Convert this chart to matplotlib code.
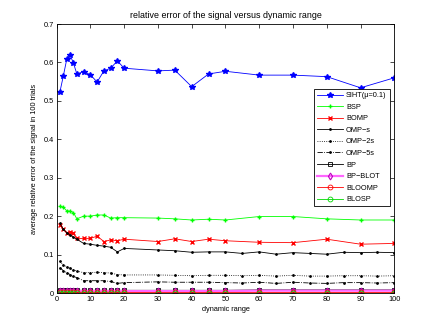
import numpy as np
import matplotlib
matplotlib.use("Agg")
import matplotlib.pyplot as plt

plt.rcParams['font.family'] = ['Liberation Sans', 'DejaVu Sans']
plt.rcParams['font.size'] = 5.3

# dynamic range sample points
x = [1, 2, 3, 4, 5, 6, 8, 10, 12, 14, 16, 18, 20, 30, 35, 40, 45, 50, 60, 70, 80, 90, 100]
x_omp = [1, 2, 3, 4, 5, 6, 8, 10, 12, 14, 16, 18, 20, 30, 35, 40, 45, 50, 55, 60, 65, 70, 75, 80, 85, 90, 95, 100]

siht = [0.524, 0.565, 0.608, 0.619, 0.598, 0.570, 0.576, 0.568, 0.549, 0.578, 0.585, 0.604,
        0.585, 0.578, 0.580, 0.537, 0.570, 0.577, 0.567, 0.567, 0.563, 0.534, 0.560]
bsp = [0.226, 0.223, 0.214, 0.213, 0.209, 0.193, 0.200, 0.200, 0.203, 0.203, 0.195, 0.196,
       0.196, 0.195, 0.193, 0.190, 0.192, 0.190, 0.199, 0.199, 0.193, 0.190, 0.190]
bomp = [0.177, 0.166, 0.157, 0.160, 0.155, 0.142, 0.142, 0.142, 0.148, 0.134, 0.138, 0.136,
        0.140, 0.134, 0.141, 0.134, 0.140, 0.136, 0.132, 0.131, 0.140, 0.127, 0.129]
omp_s = [0.181, 0.166, 0.157, 0.151, 0.145, 0.140, 0.129, 0.127, 0.124, 0.122, 0.119, 0.107,
         0.116, 0.112, 0.110, 0.106, 0.107, 0.107, 0.103, 0.107, 0.101, 0.105, 0.103, 0.101,
         0.106, 0.105, 0.106, 0.105]
omp_2s = [0.082, 0.073, 0.068, 0.064, 0.060, 0.057, 0.053, 0.053, 0.054, 0.053, 0.052, 0.048,
          0.047, 0.047, 0.046, 0.045, 0.046, 0.046, 0.045, 0.046, 0.044, 0.046, 0.044, 0.044,
          0.045, 0.045, 0.044, 0.045]
omp_5s = [0.066, 0.058, 0.053, 0.048, 0.043, 0.040, 0.032, 0.032, 0.032, 0.032, 0.030, 0.025,
          0.027, 0.029, 0.028, 0.028, 0.028, 0.027, 0.026, 0.028, 0.025, 0.028, 0.026, 0.025,
          0.027, 0.027, 0.026, 0.027]
bp = [0.008, 0.007, 0.008, 0.007, 0.007, 0.007, 0.007, 0.007, 0.007, 0.007, 0.007, 0.007,
      0.007, 0.007, 0.007, 0.007, 0.007, 0.007, 0.008, 0.008, 0.008, 0.008, 0.008]
bp_blot = [0.006, 0.005, 0.006, 0.005, 0.005, 0.005, 0.005, 0.005, 0.005, 0.005, 0.005, 0.005,
           0.005, 0.005, 0.005, 0.005, 0.005, 0.005, 0.006, 0.006, 0.006, 0.006, 0.006]
bloomp = [0.002] * len(x)
blosp = [0.0] * len(x)

fig = plt.figure(figsize=(4.36, 3.28), dpi=100)
ax = fig.add_axes([0.1298, 0.1067, 0.7746, 0.8201])

lw = 0.6
ms = 3.5
ax.plot(x, siht, 'b-*', lw=lw, ms=ms + 0.5, label='SIHT(\u03bc=0.1)')
ax.plot(x, bsp, '-+', color=(0, 1, 0), lw=lw, ms=ms, label='BSP')
ax.plot(x, bomp, 'r-x', lw=lw, ms=ms - 1, label='BOMP')
ax.plot(x_omp, omp_s, 'k', lw=lw, ms=2, marker='.', linestyle='-', label='OMP\u2212s')
ax.plot(x_omp, omp_2s, 'k', lw=lw, ms=2, marker='.', linestyle=':', label='OMP\u22122s')
ax.plot(x_omp, omp_5s, 'k', lw=lw, ms=2, marker='.', linestyle='-.', label='OMP\u22125s')
ax.plot(x, bp, 'k-s', lw=lw, ms=ms - 0.5, mfc='none', mew=0.6, label='BP')
ax.plot(x, bp_blot, '-d', color='#ff66ff', lw=1.6, ms=ms, mfc='none', mew=0.8,
        mec='m', label='BP\u2212BLOT')
ax.plot(x, bloomp, 'r-o', lw=lw, ms=ms, mfc='none', mew=0.6, label='BLOOMP')
ax.plot(x, blosp, '-o', color=(0, 0.85, 0), lw=lw, ms=ms, mfc='none', mew=0.6, label='BLOSP')

ax.set_xlim(0, 100)
ax.set_ylim(0, 0.7)
ax.set_xticks(np.arange(0, 101, 10))
ax.set_yticks(np.arange(0, 0.71, 0.1))
ax.set_yticklabels(['0', '0.1', '0.2', '0.3', '0.4', '0.5', '0.6', '0.7'])
ax.tick_params(direction='in', top=True, right=True, length=3, width=0.5, pad=2)
for s in ax.spines.values():
    s.set_linewidth(0.6)

ax.set_title('relative error of the signal versus dynamic range', pad=4)
ax.set_xlabel('dynamic range', labelpad=2)
ax.set_ylabel('average relative error of the signal in 100 trials', labelpad=4)

leg = ax.legend(loc='upper right', bbox_to_anchor=(389.5 / 436, 1 - 89 / 328),
                bbox_transform=fig.transFigure, fancybox=False, edgecolor='black',
                framealpha=1, handlelength=3.6, labelspacing=0.6, borderpad=0.4,
                handletextpad=0.4, borderaxespad=0)
leg.get_frame().set_linewidth(0.6)

fig.savefig('out.png', dpi=100)
